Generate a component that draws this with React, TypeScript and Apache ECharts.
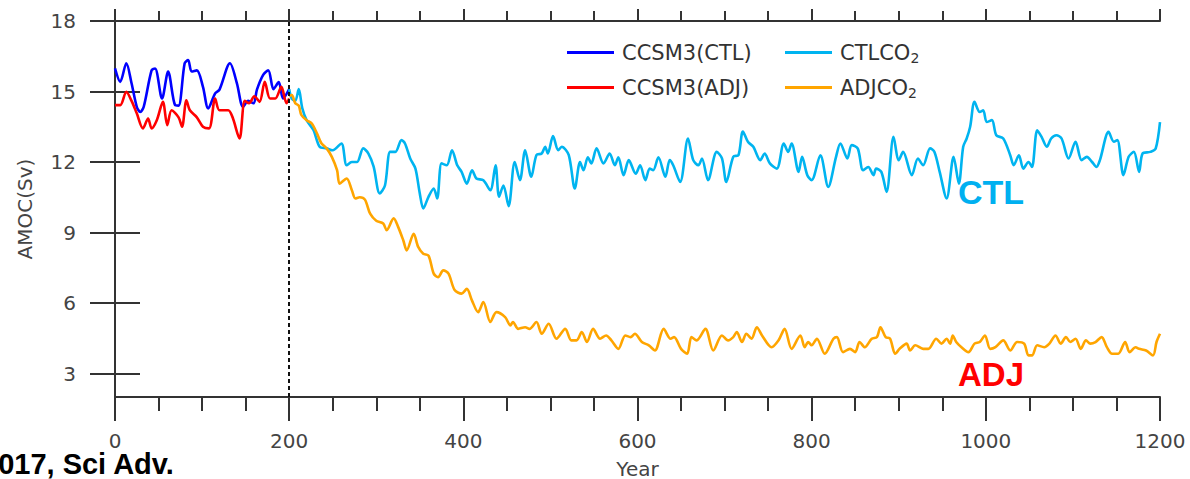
import React, { useEffect, useRef } from "react";
import * as echarts from "echarts";

const ccsm3Ctl: [number, number][] = [
  [0, 15.98], [6, 15.41], [13, 16.2], [19, 15.35], [25, 14.35], [29, 14.13], [33, 14.35], [42, 15.9], [46, 15.98],
  [54, 14.7], [61, 15.85], [69, 14.42], [73, 14.4], [80, 16.2], [84, 16.34], [88, 15.85], [94, 15.9], [101, 15.2],
  [107, 14.28], [115, 14.92], [120, 15.08], [132, 16.2], [140, 15.35], [147, 14.35], [153, 14.6], [159, 14.5],
  [163, 15.08], [170, 15.7], [176, 15.9], [182, 15.1], [188, 15.4], [193, 14.7], [200, 15.1],
];

const ccsm3Adj: [number, number][] = [
  [0, 14.42], [6, 14.42], [13, 14.99], [19, 14.6], [25, 14.07], [32, 13.43], [38, 13.85], [42, 13.43], [48, 13.78],
  [55, 14.56], [60, 13.57], [65, 14.2], [73, 13.9], [77, 13.5], [82, 14.63], [86, 14.2], [94, 13.9], [101, 13.5],
  [108, 13.43], [115, 14.7], [120, 14.2], [130, 14.2], [135, 13.9], [143, 13.0], [149, 14.6], [154, 14.5], [160, 14.8],
  [166, 14.56], [172, 15.41], [178, 14.7], [184, 14.7], [191, 15.2], [197, 14.5], [200, 14.7],
];

const ctlCo2: [number, number][] = [
  [200, 15.1], [203, 14.7], [207, 14.6], [211, 15.1], [215, 14.3], [220, 13.78], [228, 13.35], [235, 12.65], [243, 12.58],
  [250, 12.5], [260, 12.79], [266, 11.86], [272, 12.0], [278, 12.0], [285, 12.58], [291, 12.36], [297, 11.8], [304, 10.66],
  [310, 11.0], [316, 12.43], [322, 12.43], [329, 12.93], [333, 12.79], [339, 12.15], [345, 11.72], [350, 10.66], [354, 10.02],
  [360, 10.52], [366, 10.87], [370, 10.45], [375, 11.94], [381, 11.86], [387, 12.5], [393, 11.86], [398, 11.58], [404, 11.08],
  [410, 11.65], [415, 11.3], [423, 11.22], [431, 10.8], [437, 11.86], [441, 10.52], [446, 11.0], [452, 10.12], [459, 12.0],
  [465, 11.23], [471, 12.5], [478, 11.37], [484, 12.3], [490, 12.36], [494, 12.65], [497, 12.36], [503, 13.1], [509, 12.5],
  [513, 12.65], [521, 12.3], [528, 10.87], [534, 12.0], [538, 11.65], [543, 12.2], [547, 11.94], [553, 12.58], [561, 11.94],
  [568, 12.36], [574, 11.86], [578, 12.2], [584, 11.44], [590, 12.08], [598, 11.5], [603, 11.86], [609, 11.23], [614, 11.72],
  [618, 11.65], [624, 12.2], [632, 11.37], [637, 12.08], [641, 11.86], [649, 11.15], [658, 13.0], [664, 12.08], [670, 11.86],
  [674, 12.15], [681, 11.23], [691, 12.43], [697, 12.15], [702, 11.15], [710, 12.22], [716, 12.3], [721, 13.3], [727, 12.85],
  [733, 12.65], [741, 12.08], [746, 12.36], [752, 11.94], [760, 11.72], [768, 12.79], [773, 12.43], [777, 12.79], [785, 11.58],
  [789, 12.22], [795, 11.44], [800, 11.23], [810, 12.29], [819, 10.94], [828, 12.22], [833, 12.79], [841, 12.15], [846, 12.72],
  [853, 12.57], [859, 11.65], [865, 11.79], [871, 11.44], [874, 11.72], [880, 11.58], [886, 10.73], [894, 13.07], [900, 12.08],
  [905, 12.43], [915, 11.44], [922, 12.15], [928, 11.86], [936, 12.58], [941, 12.43], [947, 11.58], [955, 10.45], [963, 12.22],
  [969, 11.08], [974, 12.65], [978, 13.0], [982, 13.5], [987, 14.56], [993, 14.13], [997, 14.2], [1001, 13.7], [1007, 13.78],
  [1012, 13.14], [1020, 13.0], [1028, 12.29], [1032, 11.86], [1038, 12.29], [1043, 11.72], [1049, 12.0], [1053, 11.79],
  [1059, 13.35], [1064, 13.07], [1070, 12.65], [1075, 13.0], [1081, 13.14], [1087, 13.0], [1095, 12.15], [1103, 12.86],
  [1110, 12.08], [1116, 12.22], [1122, 12.0], [1127, 11.79], [1131, 12.08], [1141, 13.28], [1147, 12.86], [1151, 12.93],
  [1158, 11.44], [1164, 12.22], [1170, 12.43], [1176, 11.58], [1180, 12.36], [1189, 12.43], [1195, 12.57], [1200, 13.7],
];

const adjCo2: [number, number][] = [
  [200, 14.8], [203, 14.85], [207, 14.5], [211, 14.4], [214, 14.0], [220, 13.78], [226, 13.64], [232, 13.21], [237, 12.8],
  [243, 12.58], [249, 12.22], [255, 11.65], [258, 11.08], [266, 11.3], [272, 10.8], [276, 10.45], [281, 10.5], [287, 10.4],
  [293, 9.8], [300, 9.5], [308, 9.38], [312, 9.1], [320, 9.6], [325, 9.25], [331, 8.67], [335, 8.24], [343, 8.95], [348, 8.4],
  [354, 8.1], [360, 8.02], [366, 7.25], [371, 7.1], [377, 7.39], [383, 7.25], [390, 6.55], [398, 6.4], [404, 6.6], [410, 6.1],
  [417, 5.61], [423, 6.04], [431, 5.19], [438, 5.61], [448, 5.4], [454, 5.05], [457, 5.19], [463, 4.9], [471, 4.97], [476, 4.9],
  [484, 5.19], [490, 4.69], [498, 5.12], [507, 4.48], [517, 4.9], [524, 4.41], [530, 4.41], [536, 4.76], [542, 4.34], [549, 4.9],
  [557, 4.48], [564, 4.62], [570, 4.41], [578, 4.05], [586, 4.62], [592, 4.55], [597, 4.69], [605, 4.34], [613, 4.2], [620, 3.98],
  [630, 4.9], [638, 4.48], [642, 4.55], [650, 4.05], [657, 3.84], [662, 4.55], [668, 4.41], [678, 4.9], [687, 3.98], [697, 4.62],
  [704, 4.41], [710, 4.55], [714, 4.76], [720, 4.34], [725, 4.69], [731, 4.48], [737, 4.97], [743, 4.62], [754, 4.12], [762, 4.41],
  [769, 4.9], [777, 4.05], [787, 4.62], [792, 4.12], [796, 4.34], [800, 4.2], [806, 4.48], [815, 3.84], [825, 4.48], [829, 4.55],
  [836, 3.91], [844, 4.05], [850, 3.91], [855, 4.34], [861, 4.12], [869, 4.48], [875, 4.55], [879, 4.97], [885, 4.55], [890, 4.48],
  [896, 3.84], [901, 4.05], [909, 4.27], [913, 3.98], [919, 4.2], [928, 4.05], [934, 4.05], [943, 4.48], [949, 4.27], [955, 4.48],
  [959, 4.27], [962, 4.62], [966, 4.34], [972, 4.12], [980, 3.91], [987, 4.27], [993, 4.34], [999, 4.62], [1005, 4.05],
  [1011, 4.12], [1020, 4.41], [1028, 3.98], [1036, 4.34], [1044, 4.27], [1049, 3.77], [1053, 3.77], [1059, 4.2], [1067, 4.12],
  [1073, 4.27], [1080, 4.62], [1086, 4.27], [1092, 4.55], [1097, 4.34], [1103, 4.48], [1109, 4.05], [1115, 4.41], [1120, 4.27],
  [1126, 4.34], [1133, 4.55], [1139, 4.12], [1145, 3.84], [1152, 3.84], [1160, 4.34], [1165, 3.91], [1172, 4.12], [1176, 4.05],
  [1184, 3.98], [1192, 3.77], [1196, 4.34], [1200, 4.69],
];

const yTicks = [3, 6, 9, 12, 15, 18];
const switchYear = 200;

const FONT = "DejaVu Sans";
const AXIS = "#333";
const LABEL = "#444";

export default function App() {
  const ref = useRef<HTMLDivElement>(null);
  useEffect(() => {
    if (!ref.current) return;
    const chart = echarts.init(ref.current, null, { renderer: "svg" });
    const lineSeries = (name: string, data: [number, number][], color: string, extra: any = {}) => ({
      name,
      type: "line",
      data,
      showSymbol: false,
      symbol: "none",
      smooth: 0.3,
      lineStyle: { color, width: 2.6 },
      itemStyle: { color },
      ...extra,
    });
    const legendBase = (name: string, left: number, top: number) => ({
      data: [name],
      left,
      top,
      padding: 0,
      icon: "rect",
      itemWidth: 47,
      itemHeight: 3,
      selectedMode: false,
      formatter: (n: string) => n.replace("CO2", "CO{sub|2}"),
      textStyle: {
        fontFamily: FONT,
        fontSize: 21,
        color: "#333",
        padding: [0, 0, 0, 3],
        rich: { sub: { fontFamily: FONT, fontSize: 14, color: "#333", padding: [10, 0, 0, 0] } },
      },
    });
    const noComma = (v: number) => String(v);
    chart.setOption({
      animation: false,
      backgroundColor: "#fff",
      textStyle: { fontFamily: FONT },
      grid: { left: 115, right: 30, top: 21, bottom: 82, outerBoundsMode: "none", containLabel: false },
      legend: [
        legendBase("CCSM3(CTL)", 567, 42),
        legendBase("CTLCO2", 785, 42),
        legendBase("CCSM3(ADJ)", 567, 77),
        legendBase("ADJCO2", 785, 77),
      ],
      xAxis: [
        {
          type: "value",
          position: "bottom",
          min: 0,
          max: 1200,
          interval: 200,
          name: "Year",
          nameLocation: "middle",
          nameGap: 62,
          nameTextStyle: { fontFamily: FONT, fontSize: 20, color: LABEL },
          axisLine: { show: true, lineStyle: { color: AXIS, width: 2 } },
          axisTick: { show: true, length: 24, lineStyle: { color: AXIS, width: 2 } },
          minorTick: { show: true, splitNumber: 4, length: 14, lineStyle: { color: AXIS, width: 2 } },
          axisLabel: { fontFamily: FONT, fontSize: 20, color: LABEL, margin: 34, formatter: noComma },
          splitLine: { show: false },
        },
        {
          type: "value",
          position: "top",
          min: 0,
          max: 1200,
          interval: 200,
          axisLine: { show: true, lineStyle: { color: AXIS, width: 2 } },
          axisTick: { show: true, length: 12, lineStyle: { color: AXIS, width: 2 } },
          minorTick: { show: true, splitNumber: 4, length: 10, lineStyle: { color: AXIS, width: 2 } },
          axisLabel: { show: false },
          splitLine: { show: false },
        },
      ],
      yAxis: [
        {
          type: "value",
          position: "left",
          min: 2,
          max: 18,
          name: "AMOC(Sv)",
          nameLocation: "middle",
          nameGap: 80,
          nameRotate: 90,
          nameTextStyle: { fontFamily: FONT, fontSize: 20, color: LABEL },
          axisLine: { show: true, lineStyle: { color: AXIS, width: 2 } },
          axisTick: { show: true, length: 25, customValues: yTicks, lineStyle: { color: AXIS, width: 2 } },
          axisLabel: { fontFamily: FONT, fontSize: 20, color: LABEL, margin: 39, customValues: yTicks, formatter: noComma },
          splitLine: { show: false },
        },
        {
          type: "value",
          position: "right",
          min: 2,
          max: 18,
          axisLine: { show: true, lineStyle: { color: AXIS, width: 2 } },
          axisTick: { show: true, length: 25, customValues: yTicks, lineStyle: { color: AXIS, width: 2 } },
          axisLabel: { show: false },
          splitLine: { show: false },
        },
      ],
      series: [
        lineSeries("CCSM3(CTL)", ccsm3Ctl, "#0000ff"),
        lineSeries("CCSM3(ADJ)", ccsm3Adj, "#ff0000"),
        lineSeries("CTLCO2", ctlCo2, "#00b4f0", {
          markLine: {
            silent: true,
            symbol: ["none", "none"],
            label: { show: false },
            lineStyle: { color: "#111", width: 2, type: [4, 3] },
            data: [{ xAxis: switchYear }],
          },
        }),
        lineSeries("ADJCO2", adjCo2, "#ffa500"),
      ],
      graphic: [
        {
          type: "text",
          left: 958,
          top: 175,
          style: { text: "CTL", fontFamily: "Liberation Sans", fontWeight: "bold", fontSize: 34, fill: "#00b0f0" },
        },
        {
          type: "text",
          left: 958,
          top: 358,
          style: { text: "ADJ", fontFamily: "Liberation Sans", fontWeight: "bold", fontSize: 33, fill: "#ff0000" },
        },
        {
          type: "text",
          left: -18,
          top: 449,
          style: { text: "2017, Sci Adv.", fontFamily: "Liberation Sans", fontWeight: "bold", fontSize: 29, fill: "#000" },
        },
      ],
    });
    return () => chart.dispose();
  }, []);
  return (
    <div
      ref={ref}
      style={{ position: "absolute", left: 0, top: 0, width: 1190, height: 479, background: "#fff" }}
    />
  );
}
